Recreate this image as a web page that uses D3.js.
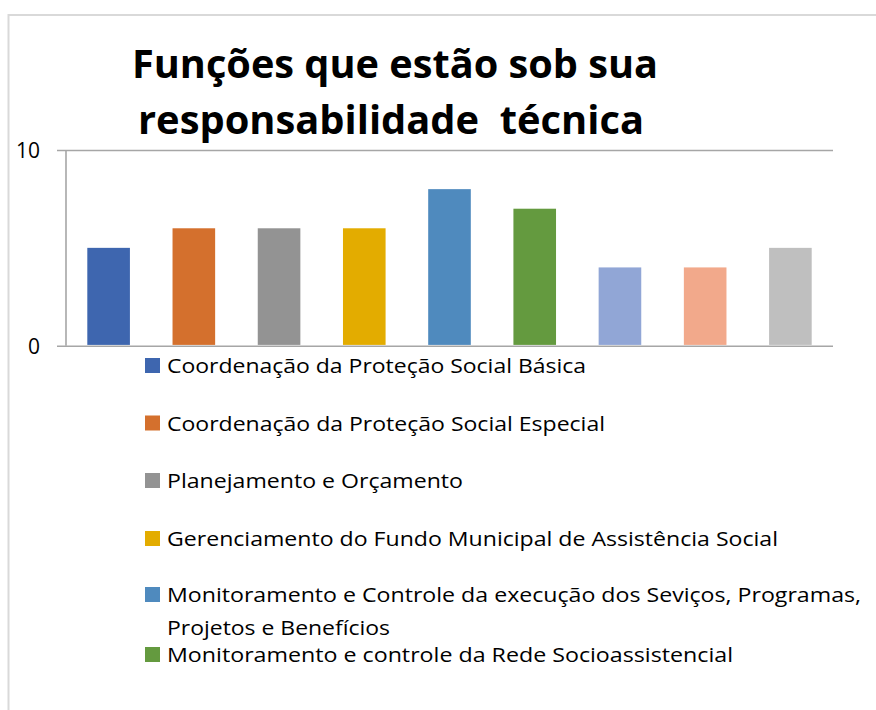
<!DOCTYPE html>
<html>
<head>
<meta charset="utf-8">
<script src="https://cdn.jsdelivr.net/npm/d3@7"></script>
<style>
  html, body { margin: 0; padding: 0; background: #fff; }
  svg { display: block; }
  text { font-family: "Open Sans", "Noto Sans", sans-serif; white-space: pre; }
</style>
</head>
<body>
<svg id="chart" width="876" height="710"></svg>
<script>
// ---- data ----
const categories = [
  "Coordenação da Proteção Social Básica",
  "Coordenação da Proteção Social Especial",
  "Planejamento e Orçamento",
  "Gerenciamento do Fundo Municipal de Assistência Social",
  "Monitoramento e Controle da execução dos Seviços, Programas, Projetos e Benefícios",
  "Monitoramento e controle da Rede Socioassistencial",
  "Função 7",
  "Função 8",
  "Função 9"
];
const values = [5, 6, 6, 6, 8, 7, 4, 4, 5];
const colors = ["#3E66AF", "#D4702D", "#939393", "#E3AC00", "#4F8ABE", "#649A3F", "#91A6D6", "#F2A98B", "#BFBFBF"];
const yTicks = [0, 10];
const titleLines = ["Funções que estão sob sua", "responsabilidade  técnica"];
// legend text lines as they wrap in the picture
const legendLines = [
  ["Coordenação da Proteção Social Básica"],
  ["Coordenação da Proteção Social Especial"],
  ["Planejamento e Orçamento"],
  ["Gerenciamento do Fundo Municipal de Assistência Social"],
  ["Monitoramento e Controle da execução dos Seviços, Programas,", "Projetos e Benefícios"],
  ["Monitoramento e controle da Rede Socioassistencial"]
];

// ---- layout ----
const svg = d3.select("#chart");
const plot = { left: 66, right: 833, top: 150, bottom: 345.7 };

// frame
svg.append("line").attr("x1", 8.5).attr("x2", 8.5).attr("y1", 14).attr("y2", 710)
  .attr("stroke", "#d9d9d9").attr("stroke-width", 2);
svg.append("line").attr("x1", 8).attr("x2", 876).attr("y1", 15).attr("y2", 15)
  .attr("stroke", "#d9d9d9").attr("stroke-width", 2);

// title
const titleSpecs = [{ x: 132, y: 78, w: 526 }, { x: 138, y: 134, w: 506 }];
titleLines.forEach((t, i) => {
  svg.append("text")
    .attr("x", titleSpecs[i].x).attr("y", titleSpecs[i].y)
    .attr("font-size", 39).attr("font-weight", "bold").attr("fill", "#000")
    .attr("textLength", titleSpecs[i].w).attr("lengthAdjust", "spacingAndGlyphs")
    .text(t);
});

// scales
const x = d3.scaleBand().domain(d3.range(values.length))
  .range([plot.left, plot.right]).paddingInner(0.5).paddingOuter(0.25);
const y = d3.scaleLinear().domain([0, 10]).range([plot.bottom, plot.top]);

// gridlines + tick labels via axis
const yAxis = d3.axisLeft(y).tickValues(yTicks).tickSize(plot.right - 57).tickPadding(17)
  .tickFormat(d3.format("d"));
const gAxis = svg.append("g").attr("transform", `translate(${plot.right},0)`).call(yAxis);
gAxis.select(".domain").remove();
gAxis.selectAll(".tick line").attr("stroke", "#a6a6a6").attr("stroke-width", 1.6);
gAxis.selectAll(".tick text").attr("font-size", 21).attr("fill", "#000")
  .attr("font-family", "'Open Sans', sans-serif").attr("dy", "0.36em");

// vertical axis line
svg.append("line").attr("x1", plot.left).attr("x2", plot.left)
  .attr("y1", y(10)).attr("y2", y(0))
  .attr("stroke", "#a6a6a6").attr("stroke-width", 1.6);

// bars
svg.append("g").selectAll("rect").data(values).join("rect")
  .attr("x", (d, i) => x(i))
  .attr("width", x.bandwidth())
  .attr("y", d => y(d))
  .attr("height", d => y(0) - y(d) - 0.8)
  .attr("fill", (d, i) => colors[i]);

// legend
const legendBaselines = [373, 430.5, 488, 546, 602, 662];
const wrapOffset = 33;
const lineWidths = [[419], [438], [296], [611], [694, 223], [566]];
const lg = svg.append("g");
legendLines.forEach((lines, i) => {
  const by = legendBaselines[i];
  lg.append("rect").attr("x", 145).attr("y", by - 15).attr("width", 15).attr("height", 15)
    .attr("fill", colors[i]);
  lines.forEach((ln, j) => {
    lg.append("text")
      .attr("x", 167).attr("y", by + j * wrapOffset)
      .attr("font-size", 20.5).attr("fill", "#000")
      .attr("textLength", lineWidths[i][j]).attr("lengthAdjust", "spacingAndGlyphs")
      .text(ln);
  });
});
</script>
</body>
</html>
